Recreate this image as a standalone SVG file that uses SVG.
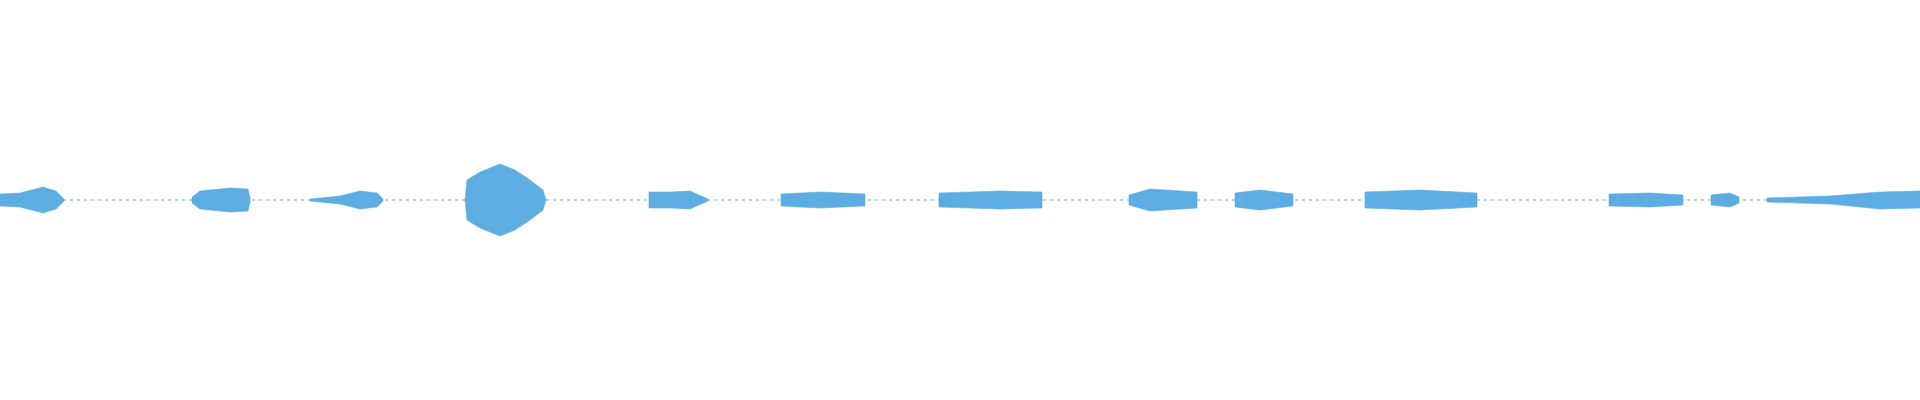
<svg xmlns="http://www.w3.org/2000/svg" width="1920" height="400" viewBox="0 0 1920 400">
<style>.w{fill:#5dade2;stroke:#5dade2;stroke-width:0.6}.c{stroke:#5dade2;stroke-width:1;stroke-dasharray:3 4}</style>
<rect width="1920" height="400" fill="#fff"/>
<line class="c" x1="0" y1="200" x2="1920" y2="200"/>
<g id="waveform">
<polygon class="w" points="0,194 20,193 43,187 56,191 64,199 64,201 56,209 43,213 20,207 0,206"/>
<polygon class="w" points="192,197 200,191 230,188 248,189 250,198 250,202 248,211 230,212 200,209 192,203"/>
<polygon class="w" points="310,199 340,196 360,191 377,193 383,199 383,201 377,207 360,209 340,204 310,201"/>
<polygon class="w" points="465,200 467,180 480,172 500,164 515,170 530,180 543,190 546,200 543,210 530,220 515,230 500,236 480,228 467,220"/>
<polygon class="w" points="649,192 670,192 690,191 708,199 708,201 690,209 670,208 649,208"/>
<polygon class="w" points="781,194 820,192 865,194 865,206 820,208 781,206"/>
<polygon class="w" points="939,193 1000,191 1042,192 1042,208 1000,209 939,207"/>
<polygon class="w" points="1129,195 1150,189 1197,192 1197,208 1150,211 1129,205"/>
<polygon class="w" points="1235,193 1260,190 1293,194 1293,206 1260,210 1235,207"/>
<polygon class="w" points="1365,192 1420,190 1477,193 1477,207 1420,210 1365,208"/>
<polygon class="w" points="1609,194 1650,193 1683,195 1683,205 1650,207 1609,206"/>
<polygon class="w" points="1711,195 1730,193 1739,197 1739,203 1730,207 1711,205"/>
<polygon class="w" points="1767,198 1830,196 1880,192 1920,191 1920,208 1880,209 1830,204 1767,202"/>
</g>
</svg>
